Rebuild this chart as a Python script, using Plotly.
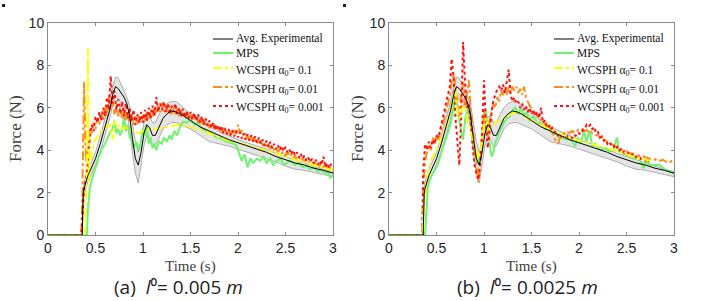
import numpy as np
import plotly.graph_objects as go

# ---------------- data ----------------
# Averaged experimental force (shared by both panels) and its spread band
t_exp = [0, 0.36, 0.37, 0.38, 0.42, 0.45, 0.5, 0.55, 0.6, 0.65,
         0.68, 0.71, 0.74, 0.77, 0.8, 0.83, 0.86, 0.89, 0.92, 0.95,
         0.98, 1.01, 1.04, 1.07, 1.1, 1.13, 1.17, 1.21, 1.25, 1.3,
         1.35, 1.4, 1.5, 1.6, 1.7, 1.8, 1.9, 2.0, 2.1, 2.2,
         2.3, 2.4, 2.5, 2.6, 2.7, 2.8, 2.9, 3.0]
f_exp = [0, 0, 1.9, 2.2, 2.8, 3.1, 3.6, 4.3, 5.1, 5.9,
         6.6, 7.0, 6.9, 6.7, 6.5, 6.2, 5.6, 4.5, 3.6, 3.3,
         3.9, 4.8, 5.2, 5.05, 4.7, 4.7, 5.1, 5.5, 5.7, 5.85,
         5.8, 5.7, 5.4, 5.1, 4.9, 4.7, 4.5, 4.35, 4.2, 4.05,
         3.9, 3.7, 3.55, 3.4, 3.3, 3.15, 3.05, 2.92]
f_exp_up = [0, 0, 2.1, 2.5, 3.1, 3.4, 3.9, 4.7, 5.5, 6.3,
            7.0, 7.45, 7.4, 7.1, 6.8, 6.5, 6.1, 5.2, 4.4, 3.9,
            4.4, 5.3, 5.6, 5.6, 5.3, 5.3, 5.7, 6.0, 6.2, 6.3,
            6.3, 6.1, 5.7, 5.4, 5.1, 4.9, 4.7, 4.5, 4.35, 4.2,
            4.05, 3.85, 3.7, 3.55, 3.4, 3.25, 3.1, 3.0]
f_exp_lo = [0, 0, 1.7, 1.9, 2.5, 2.8, 3.3, 3.9, 4.7, 5.5,
            6.1, 6.6, 6.4, 6.2, 6.0, 5.7, 5.0, 3.8, 2.9, 2.45,
            3.3, 4.2, 4.7, 4.5, 4.15, 4.2, 4.6, 5.0, 5.2, 5.3,
            5.3, 5.2, 5.0, 4.7, 4.4, 4.3, 4.2, 4.05, 3.9, 3.75,
            3.6, 3.45, 3.25, 3.1, 3.05, 2.95, 2.85, 2.75]

# (a) l0 = 0.005 m
t_mps_a = [0, 0.41, 0.42, 0.44, 0.46, 0.48, 0.5, 0.53, 0.56, 0.6,
           0.63, 0.66, 0.68, 0.7, 0.72, 0.74, 0.76, 0.78, 0.8, 0.82,
           0.84, 0.86, 0.88, 0.9, 0.93, 0.96, 0.98, 1.0, 1.02, 1.04,
           1.06, 1.08, 1.1, 1.12, 1.14, 1.17, 1.2, 1.22, 1.25, 1.28,
           1.3, 1.33, 1.36, 1.39, 1.42, 1.46, 1.5, 1.54, 1.58, 1.62,
           1.67, 1.72, 1.77, 1.82, 1.88, 1.93, 1.98, 2.01, 2.04, 2.07,
           2.1, 2.13, 2.16, 2.2, 2.23, 2.27, 2.3, 2.34, 2.37, 2.41,
           2.45, 2.48, 2.51, 2.55, 2.6, 2.64, 2.68, 2.72, 2.76, 2.8,
           2.84, 2.88, 2.92, 2.95, 2.97, 3.0]
f_mps_a = [0, 0, 1.2, 2.2, 2.6, 2.9, 3.2, 3.6, 4.0, 4.3,
           4.6, 4.9, 5.0, 5.4, 4.8, 5.0, 4.7, 4.9, 5.6, 4.9,
           5.2, 4.6, 4.5, 4.1, 4.4, 4.0, 4.5, 5.0, 4.7, 5.2,
           4.3, 4.6, 4.1, 4.3, 4.0, 4.4, 4.3, 4.6, 4.4, 4.7,
           4.5, 4.9, 4.7, 5.1, 5.35, 5.3, 5.45, 5.2, 5.3, 5.0,
           4.9, 4.8, 4.6, 4.55, 4.4, 4.35, 4.25, 3.9, 3.5, 3.8,
           3.2, 3.6, 3.4, 3.6, 3.5, 3.7, 3.4, 3.6, 3.3, 3.5,
           3.6, 3.3, 3.4, 3.5, 3.3, 3.4, 3.2, 3.25, 3.1, 3.2,
           3.0, 3.05, 2.9, 2.95, 2.7, 2.8]

t_a01_a = [0, 0.38, 0.395, 0.41, 0.42, 0.43, 0.44, 0.46, 0.48, 0.5,
           0.53, 0.56, 0.6, 0.63, 0.66, 0.68, 0.7, 0.72, 0.75, 0.78,
           0.8, 0.85, 0.9, 0.95, 1.0, 1.1, 1.2, 1.3, 1.4, 1.45,
           1.5, 1.6, 1.7, 1.8, 1.9, 2.0, 2.2, 2.4, 2.6, 2.8,
           3.0]
f_a01_a = [0, 0, 1.0, 3.0, 8.8, 2.5, 3.4, 3.9, 4.3, 4.5,
           4.7, 4.9, 5.0, 5.2, 5.1, 4.5, 5.4, 5.1, 5.2, 5.0,
           5.1, 5.0, 4.9, 4.8, 4.9, 5.0, 5.05, 5.15, 5.2, 5.15,
           5.1, 4.95, 4.8, 4.6, 4.45, 4.35, 4.1, 3.85, 3.55, 3.3,
           3.05]

# sampled every 0.02 s starting at t = 0.36 s (force is zero before)
f_a001_a = [1.5, 7.2, 3.5, 4.4, 5.0, 4.8, 5.3, 5.0, 5.5, 5.2,
            5.7, 5.4, 6.0, 5.6, 6.6, 5.9, 6.4, 5.7, 6.1, 5.6,
            6.0, 5.5, 5.9, 5.4, 5.8, 5.3, 5.7, 5.2, 5.6, 5.2,
            5.6, 5.3, 5.7, 5.4, 5.8, 5.5, 5.9, 5.6, 6.0, 5.7,
            6.1, 5.8, 6.2, 5.8, 6.1, 5.8, 6.1, 5.7, 6.0, 5.7,
            5.95, 5.6, 5.9, 5.55, 5.8, 5.5, 5.75, 5.45, 5.7, 5.4,
            5.6, 5.3, 5.55, 5.2, 5.45, 5.15, 5.35, 5.05, 5.3, 5.0,
            5.2, 4.95, 5.1, 4.85, 5.05, 4.8, 4.95, 4.75, 4.9, 4.7,
            5.0, 4.75, 5.2, 4.8, 4.95, 4.65, 4.8, 4.55, 4.7, 4.45,
            4.6, 4.4, 4.55, 4.3, 4.45, 4.2, 4.35, 4.15, 4.3, 4.05,
            4.2, 4.0, 4.1, 3.9, 4.05, 3.85, 3.95, 3.75, 3.9, 3.7,
            3.8, 3.6, 3.75, 3.55, 3.7, 3.5, 3.6, 3.45, 3.55, 3.4,
            3.5, 3.35, 3.45, 3.3, 3.4, 3.25, 3.35, 3.2, 3.3, 3.15,
            3.25, 3.1, 3.2]
f_a0001_a = [0.6, 2.2, 2.7, 3.4, 4.6, 5.2, 4.9, 5.6, 5.3, 5.8,
             5.4, 6.0, 5.6, 6.5, 5.9, 7.5, 6.2, 6.8, 5.9, 6.4,
             5.7, 6.3, 5.6, 6.2, 5.5, 6.0, 5.4, 5.9, 5.2, 5.7,
             5.3, 5.8, 5.3, 5.9, 5.4, 6.0, 5.5, 6.1, 5.6, 6.5,
             5.8, 6.2, 5.9, 6.3, 5.8, 6.2, 5.7, 6.1, 5.8, 6.2,
             5.7, 6.0, 5.6, 5.95, 5.55, 5.85, 5.5, 5.8, 5.45, 5.75,
             5.4, 5.7, 5.3, 5.6, 5.2, 5.5, 5.15, 5.4, 5.05, 5.3,
             4.95, 5.2, 4.9, 5.15, 4.8, 5.05, 4.75, 5.0, 4.7, 4.95,
             4.65, 4.9, 4.6, 4.85, 4.55, 4.8, 4.5, 4.75, 4.45, 4.7,
             4.4, 4.65, 4.35, 4.6, 4.3, 4.5, 4.2, 4.45, 4.15, 4.4,
             4.1, 4.3, 4.05, 4.25, 4.0, 4.2, 3.95, 4.15, 3.9, 4.05,
             3.8, 4.0, 3.75, 3.9, 3.65, 3.85, 3.6, 3.75, 3.5, 3.65,
             3.45, 3.6, 3.35, 3.55, 3.3, 3.5, 3.3, 3.7, 3.2, 3.4,
             3.15, 3.35, 3.2]

# (b) l0 = 0.0025 m
t_mps_b = [0, 0.38, 0.39, 0.41, 0.43, 0.46, 0.49, 0.52, 0.55, 0.58,
           0.61, 0.64, 0.66, 0.68, 0.7, 0.72, 0.74, 0.76, 0.78, 0.8,
           0.82, 0.84, 0.86, 0.88, 0.9, 0.92, 0.94, 0.96, 0.98, 1.0,
           1.02, 1.04, 1.06, 1.08, 1.1, 1.12, 1.15, 1.18, 1.21, 1.24,
           1.27, 1.3, 1.33, 1.36, 1.39, 1.42, 1.45, 1.48, 1.52, 1.56,
           1.6, 1.64, 1.68, 1.72, 1.76, 1.8, 1.84, 1.88, 1.92, 1.96,
           1.99, 2.02, 2.05, 2.08, 2.11, 2.14, 2.17, 2.2, 2.24, 2.28,
           2.32, 2.36, 2.4, 2.42, 2.45, 2.5, 2.54, 2.58, 2.62, 2.65,
           2.68, 2.71, 2.75, 2.8, 2.85, 2.9, 2.95, 3.0]
f_mps_b = [0, 0, 0.8, 2.3, 2.6, 2.9, 3.1, 3.4, 3.9, 4.3,
           4.7, 5.1, 5.5, 5.9, 6.7, 6.0, 5.4, 4.9, 4.5, 5.4,
           5.8, 6.0, 5.3, 4.6, 4.1, 3.5, 3.4, 3.8, 4.6, 5.6,
           5.9, 4.9, 4.3, 3.7, 3.9, 4.4, 4.7, 5.0, 5.3, 5.5,
           5.6, 5.9, 6.0, 5.7, 6.0, 5.6, 5.8, 5.4, 5.6, 5.3,
           5.3, 5.0, 5.0, 4.8, 4.75, 4.6, 4.55, 4.5, 4.45, 4.2,
           4.6, 4.3, 4.9, 4.4, 4.95, 4.2, 4.3, 4.1, 4.0, 4.1,
           3.95, 4.0, 4.6, 3.95, 3.85, 3.8, 3.7, 3.6, 3.7, 3.4,
           3.15, 3.5, 3.3, 3.3, 3.3, 3.1, 3.0, 2.9]

t_a01_b = [0, 0.35, 0.37, 0.4, 0.43, 0.46, 0.5, 0.54, 0.58, 0.62,
           0.65, 0.68, 0.7, 0.72, 0.74, 0.77, 0.8, 0.83, 0.86, 0.89,
           0.92, 0.94, 0.97, 1.0, 1.02, 1.05, 1.08, 1.12, 1.16, 1.2,
           1.25, 1.3, 1.35, 1.4, 1.45, 1.5, 1.6, 1.7, 1.8, 1.9,
           2.0, 2.1, 2.2, 2.3, 2.4, 2.5, 2.6, 2.7, 2.75]
f_a01_b = [0, 0, 1.5, 2.6, 3.3, 3.7, 4.0, 4.4, 4.9, 5.4,
           5.9, 6.6, 6.8, 5.8, 5.5, 6.0, 6.1, 5.3, 4.9, 4.4,
           3.8, 3.6, 4.2, 5.2, 5.5, 4.9, 5.1, 5.3, 5.4, 5.5,
           5.6, 5.75, 5.8, 5.7, 5.55, 5.4, 5.2, 4.95, 4.75, 4.6,
           4.45, 4.35, 4.2, 4.1, 3.95, 3.8, 3.65, 3.55, 3.5]

# sampled every 0.02 s starting at t = 0.36 s
f_a001_b = [2.2, 3.5, 3.9, 4.3, 4.0, 4.6, 4.3, 4.7, 4.5, 4.9,
            5.1, 5.5, 5.9, 6.2, 6.5, 7.2, 7.6, 7.0, 6.4, 5.6,
            6.6, 7.2, 6.0, 6.8, 7.3, 6.0, 5.2, 4.3, 3.3, 2.5,
            3.2, 4.5, 5.9, 5.2, 4.6, 5.4, 5.9, 6.2, 6.0, 6.5,
            6.3, 6.8, 6.6, 6.9, 6.6, 7.0, 6.7, 7.0, 6.8, 7.0,
            6.7, 6.9, 6.6, 7.0, 6.5, 6.3, 6.1, 6.0, 5.8, 5.9,
            5.6, 5.7, 5.4, 5.5, 5.2, 5.3, 5.0, 5.1, 4.8, 4.6,
            4.4, 4.3, 4.6, 4.7, 4.8, 4.75, 4.85, 4.8, 4.9, 4.85,
            4.95, 4.9, 5.0, 4.95, 5.0, 4.9, 4.95, 4.85, 4.9, 4.8,
            4.8, 4.7, 4.7, 4.6, 4.6, 4.5, 4.45, 4.4, 4.35, 4.3,
            4.25, 4.2, 4.15, 4.1, 4.05, 4.0, 3.95, 3.95, 3.9, 3.85,
            3.85, 3.8, 3.8, 3.75, 3.75, 3.7, 3.7, 3.65, 3.65, 3.6,
            3.6, 3.6, 3.55, 3.6, 3.55, 3.5, 3.55, 3.5, 3.45, 3.5,
            3.45, 3.5, 3.55]
f_a0001_b = [3.0, 4.3, 4.0, 4.4, 4.1, 4.5, 4.3, 4.7, 4.6, 5.0,
             5.3, 5.8, 6.2, 6.5, 7.0, 8.3, 7.4, 5.5, 4.4, 3.3,
             5.6, 9.1, 7.2, 6.0, 6.2, 5.4, 4.2, 3.3, 2.9, 2.6,
             3.4, 4.8, 7.3, 5.2, 4.1, 5.0, 5.8, 6.4, 6.6, 6.9,
             7.0, 6.8, 7.1, 6.7, 7.2, 7.8, 6.6, 6.3, 6.5, 6.2,
             6.3, 6.0, 6.2, 5.9, 6.1, 5.8, 6.0, 5.7, 5.9, 5.6,
             5.8, 5.5, 6.0, 5.3, 5.4, 5.1, 5.2, 4.95, 5.05, 4.85,
             4.9, 4.7, 4.8, 4.6, 4.7, 4.55, 4.65, 4.5, 4.6, 4.55,
             4.7, 4.65, 4.8, 4.75, 4.95, 5.0, 5.2, 5.1, 5.2, 5.0,
             5.1, 4.8, 4.85, 4.6, 4.65, 4.45, 4.5, 4.3, 4.4, 4.2,
             4.25, 4.05, 4.15, 3.95, 4.05, 3.9, 3.95, 3.8, 3.85, 3.75,
             3.8, 3.65, 3.7, 3.6, 3.65, 3.55, 3.6, 3.5, 3.55, 3.45]

x_ticks = [0, 0.5, 1, 1.5, 2, 2.5, 3]
y_ticks = [0, 2, 4, 6, 8, 10]

names = ["Avg. Experimental", "MPS",
         "WCSPH α<sub>0</sub>= 0.1", "WCSPH α<sub>0</sub>= 0.01",
         "WCSPH α<sub>0</sub>= 0.001"]
captions = ["(a)  <i>l</i>⁰= 0.005 <i>m</i>",
            "(b)  <i>l</i>⁰= 0.0025 <i>m</i>"]

for arr_t, arr_f in [(t_exp, f_exp), (t_exp, f_exp_up), (t_exp, f_exp_lo),
                     (t_mps_a, f_mps_a), (t_a01_a, f_a01_a),
                     (t_mps_b, f_mps_b), (t_a01_b, f_a01_b)]:
    assert len(arr_t) == len(arr_f), (len(arr_t), len(arr_f))


def grid(vals, t0=0.36, dt=0.02):
    t = list(np.round(t0 + dt * np.arange(len(vals)), 3))
    return [0, t0 - 0.01] + t, [0, 0] + list(vals)


# ---------------- figure ----------------
W, H = 708, 301
fx = lambda p: p / W
fy = lambda p: 1 - p / H

# line styles: experimental, MPS, a=0.1, a=0.01, a=0.001
styles = [dict(color="#000000", width=1),
          dict(color="#6ff26f", width=2),
          dict(color="#ffff00", width=2, dash="dashdot"),
          dict(color="#ff8c1a", width=2, dash="dashdot"),
          dict(color="#ff1010", width=2, dash="dot")]

fig = go.Figure()

panels = [
    dict(xa="x", ya="y", mps=(t_mps_a, f_mps_a), a01=(t_a01_a, f_a01_a),
         a001=grid(f_a001_a), a0001=grid(f_a0001_a), leg_x=213),
    dict(xa="x2", ya="y2", mps=(t_mps_b, f_mps_b), a01=(t_a01_b, f_a01_b),
         a001=grid(f_a001_b), a0001=grid(f_a0001_b), leg_x=213 + 341),
]

for p in panels:
    common = dict(xaxis=p["xa"], yaxis=p["ya"], hoverinfo="skip", showlegend=False,
                  mode="lines")
    fig.add_trace(go.Scatter(x=t_exp + t_exp[::-1], y=f_exp_up + f_exp_lo[::-1],
                             fill="toself", fillcolor="rgba(205,205,205,0.55)",
                             line=dict(color="rgba(120,120,120,0.8)", width=0.7),
                             **common))
    fig.add_trace(go.Scatter(x=p["mps"][0], y=p["mps"][1], name=names[1],
                             line=styles[1], **common))
    fig.add_trace(go.Scatter(x=p["a001"][0], y=p["a001"][1], name=names[3],
                             line=styles[3], **common))
    fig.add_trace(go.Scatter(x=p["a0001"][0], y=p["a0001"][1], name=names[4],
                             line=styles[4], **common))
    fig.add_trace(go.Scatter(x=p["a01"][0], y=p["a01"][1], name=names[2],
                             line=styles[2], **common))
    fig.add_trace(go.Scatter(x=t_exp, y=f_exp, name=names[0],
                             line=styles[0], **common))

axis_common = dict(showgrid=False, zeroline=False, showline=True, mirror="ticks",
                   linecolor="#8a8a8a", linewidth=1, ticks="inside", ticklen=3,
                   tickcolor="#8a8a8a", automargin=False,
                   tickfont=dict(family="Liberation Sans, Arial", size=14, color="#262626"))

ydom = [(H - 235) / H, (H - 23) / H]
fig.update_layout(
    width=W, height=H, margin=dict(l=0, r=0, t=0, b=0, autoexpand=False),
    plot_bgcolor="white", paper_bgcolor="white", showlegend=False,
    xaxis=dict(domain=[fx(48), fx(333)], range=[0, 3], anchor="y",
               tickvals=x_ticks, **axis_common),
    yaxis=dict(domain=ydom, range=[0, 10], anchor="x", tickvals=y_ticks, **axis_common),
    xaxis2=dict(domain=[fx(389), fx(674)], range=[0, 3], anchor="y2",
                tickvals=x_ticks, **axis_common),
    yaxis2=dict(domain=ydom, range=[0, 10], anchor="x2", tickvals=y_ticks, **axis_common),
)

ann = []
shapes = []
row_y = [39, 53, 68, 87, 106]
for p, cx, ytx, cap_x, cap in [(panels[0], 190.5, 15, 178, captions[0]),
                               (panels[1], 531.5, 357, 527, captions[1])]:
    ann.append(dict(text="Time (s)", x=fx(cx), y=fy(266.5), xref="paper", yref="paper",
                    showarrow=False, xanchor="center", yanchor="middle", borderpad=0,
                    font=dict(family="Liberation Serif, serif", size=15, color="#404040")))
    ann.append(dict(text="Force (N)", x=fx(ytx), y=fy(129), xref="paper", yref="paper",
                    showarrow=False, textangle=-90, xanchor="center", yanchor="middle",
                    font=dict(family="Liberation Serif, serif", size=17, color="#404040")))
    ann.append(dict(text=cap, x=fx(cap_x), y=fy(287), xref="paper", yref="paper",
                    showarrow=False, xanchor="center", yanchor="middle", borderpad=0,
                    font=dict(family="Open Sans, sans-serif", size=19, color="#222222")))
    # legend drawn as line samples + labels
    lx = p["leg_x"]
    for i, (nm, st, ry) in enumerate(zip(names, styles, row_y)):
        shapes.append(dict(type="line", xref="paper", yref="paper",
                           x0=fx(lx), x1=fx(lx + 20), y0=fy(ry), y1=fy(ry),
                           line=st))
        ann.append(dict(text=nm, x=fx(lx + 21), y=fy(ry + (2.5 if i >= 2 else 0)),
                        xref="paper", yref="paper", showarrow=False,
                        xanchor="left", yanchor="middle",
                        font=dict(family="Liberation Serif, serif", size=11.5,
                                  color="#111111")))

for x0 in (2, 343):
    shapes.append(dict(type="rect", xref="paper", yref="paper",
                       x0=fx(x0), x1=fx(x0 + 3), y0=fy(7), y1=fy(4),
                       fillcolor="#222222", line=dict(width=0)))

fig.update_layout(annotations=ann, shapes=shapes)

fig.write_html("out.html", config={"displayModeBar": False},
               post_script="document.body.style.margin='0px';"
                           "document.body.style.overflow='hidden';")
